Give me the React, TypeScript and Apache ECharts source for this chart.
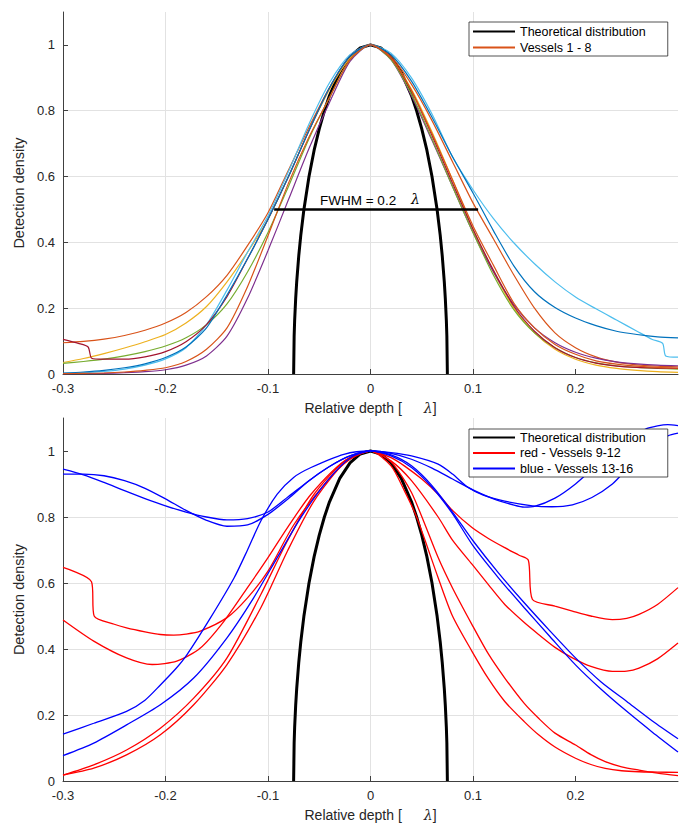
import React, { useEffect, useRef } from 'react';
import * as echarts from 'echarts';

const FONT = '"Liberation Sans", Arial, Helvetica, sans-serif';

const xTicks = [-0.3, -0.2, -0.1, 0, 0.1, 0.2];
const yTicks = [0, 0.2, 0.4, 0.6, 0.8, 1];

// Theoretical distribution
const theoX = [-0.075, -0.0745, -0.074, -0.073, -0.072, -0.07, -0.068, -0.065, -0.06, -0.055, -0.05, -0.045, -0.04, -0.03, -0.02, -0.01, 0,
  0.01, 0.02, 0.03, 0.04, 0.045, 0.05, 0.055, 0.06, 0.065, 0.068, 0.07, 0.072, 0.073, 0.074, 0.0745, 0.075];
const theoY = [0, 0.115, 0.163, 0.229, 0.28, 0.359, 0.422, 0.499, 0.6, 0.68, 0.745, 0.8, 0.846, 0.917, 0.964, 0.991, 1,
  0.991, 0.964, 0.917, 0.846, 0.8, 0.745, 0.68, 0.6, 0.499, 0.422, 0.359, 0.28, 0.229, 0.163, 0.115, 0];

// Top panel: vessels 1-8 on a common x grid
const topX = [-0.3, -0.28, -0.26, -0.24, -0.22, -0.2, -0.18, -0.16, -0.14, -0.12, -0.1, -0.08, -0.06, -0.04, -0.02, 0,
  0.02, 0.04, 0.06, 0.08, 0.1, 0.12, 0.14, 0.16, 0.18, 0.2, 0.22, 0.24, 0.26, 0.28, 0.3];
const vesselOrangeA = [0.095, 0.099, 0.106, 0.117, 0.133, 0.155, 0.187, 0.235, 0.3, 0.39, 0.49, 0.62, 0.75, 0.87, 0.96, 1,
  0.965, 0.88, 0.77, 0.645, 0.52, 0.41, 0.3, 0.2, 0.125, 0.08, 0.052, 0.036, 0.028, 0.024, 0.022];
const vesselYellow = [0.035, 0.047, 0.062, 0.079, 0.098, 0.12, 0.155, 0.205, 0.28, 0.37, 0.47, 0.6, 0.74, 0.865, 0.96, 1,
  0.96, 0.865, 0.735, 0.59, 0.44, 0.31, 0.2, 0.125, 0.075, 0.045, 0.027, 0.017, 0.011, 0.007, 0.005];
const vesselPurple = [0.0005, 0.001, 0.002, 0.004, 0.007, 0.013, 0.027, 0.055, 0.115, 0.23, 0.375, 0.53, 0.685, 0.825, 0.95, 1,
  0.955, 0.845, 0.71, 0.57, 0.43, 0.31, 0.21, 0.14, 0.095, 0.066, 0.048, 0.037, 0.031, 0.027, 0.025];
const vesselGreen = [0.032, 0.038, 0.045, 0.055, 0.068, 0.085, 0.11, 0.15, 0.213, 0.31, 0.43, 0.57, 0.715, 0.84, 0.955, 1,
  0.955, 0.85, 0.715, 0.57, 0.43, 0.3, 0.195, 0.125, 0.08, 0.05, 0.034, 0.025, 0.02, 0.017, 0.015];
const vesselBlue = [0.003, 0.006, 0.011, 0.019, 0.031, 0.05, 0.082, 0.14, 0.24, 0.35, 0.47, 0.6, 0.74, 0.87, 0.965, 1,
  0.97, 0.89, 0.78, 0.66, 0.55, 0.435, 0.328, 0.25, 0.202, 0.17, 0.147, 0.13, 0.12, 0.113, 0.11];
const vesselOrangeB = [0.001, 0.002, 0.003, 0.006, 0.011, 0.019, 0.038, 0.075, 0.14, 0.265, 0.42, 0.58, 0.72, 0.84, 0.955, 1,
  0.96, 0.86, 0.73, 0.59, 0.45, 0.33, 0.215, 0.14, 0.09, 0.06, 0.04, 0.03, 0.024, 0.02, 0.018];
// vessels with kinks: own x/y pairs
const vesselLightBlue: [number, number][] = [[-0.3, 0.002], [-0.28, 0.004], [-0.26, 0.008], [-0.24, 0.015], [-0.22, 0.027], [-0.2, 0.046],
  [-0.18, 0.08], [-0.16, 0.15], [-0.14, 0.255], [-0.12, 0.37], [-0.1, 0.48], [-0.08, 0.615], [-0.06, 0.76], [-0.04, 0.885], [-0.02, 0.97], [0, 1],
  [0.02, 0.975], [0.04, 0.9], [0.06, 0.79], [0.08, 0.66], [0.1, 0.56], [0.12, 0.472], [0.14, 0.398], [0.16, 0.335], [0.18, 0.28], [0.2, 0.234],
  [0.22, 0.198], [0.24, 0.164], [0.26, 0.13], [0.275, 0.105], [0.285, 0.093], [0.288, 0.055], [0.3, 0.051]];
const vesselDarkRed: [number, number][] = [[-0.3, 0.105], [-0.285, 0.093], [-0.2755, 0.082], [-0.272, 0.048], [-0.26, 0.045], [-0.24, 0.045],
  [-0.22, 0.052], [-0.2, 0.068], [-0.18, 0.098], [-0.16, 0.15], [-0.14, 0.235], [-0.12, 0.35], [-0.1, 0.47], [-0.08, 0.6], [-0.06, 0.74],
  [-0.04, 0.87], [-0.02, 0.965], [0, 1], [0.02, 0.96], [0.04, 0.86], [0.06, 0.725], [0.08, 0.58], [0.1, 0.44], [0.12, 0.315], [0.14, 0.205],
  [0.16, 0.13], [0.18, 0.08], [0.2, 0.05], [0.22, 0.033], [0.24, 0.024], [0.26, 0.02], [0.28, 0.018], [0.3, 0.017]];

const fwhmX = [-0.094, 0.105];
const fwhmY = [0.5, 0.5];

// Bottom panel: vessels 9-12 (red) and 13-16 (blue)
const red9: [number, number][] = [[-0.3, 0.647], [-0.2722, 0.604], [-0.2696, 0.5], [-0.25, 0.475], [-0.238, 0.464], [-0.22, 0.452], [-0.205, 0.444],
  [-0.192, 0.442], [-0.18, 0.445], [-0.166, 0.454], [-0.14, 0.495], [-0.12, 0.555], [-0.1, 0.636], [-0.0745, 0.778], [-0.042, 0.91], [-0.02, 0.975], [0, 1],
  [0.02, 0.98], [0.033, 0.955], [0.05, 0.915], [0.066, 0.869], [0.08, 0.82], [0.099, 0.768], [0.115, 0.735], [0.131, 0.707], [0.145, 0.684],
  [0.154, 0.669], [0.158, 0.55], [0.18, 0.53], [0.197, 0.515], [0.215, 0.5], [0.236, 0.489], [0.25, 0.493], [0.262, 0.505], [0.28, 0.535], [0.3, 0.586]];
const red10: [number, number][] = [[-0.3, 0.488], [-0.27, 0.424], [-0.238, 0.373], [-0.213, 0.353], [-0.189, 0.363], [-0.166, 0.403], [-0.143, 0.484],
  [-0.12, 0.586], [-0.1, 0.677], [-0.081, 0.768], [-0.058, 0.869], [-0.025, 0.971], [0, 1],
  [0.02, 0.97], [0.04, 0.91], [0.066, 0.8], [0.08, 0.73], [0.099, 0.657], [0.115, 0.595], [0.131, 0.535], [0.15, 0.48], [0.164, 0.444], [0.18, 0.405],
  [0.197, 0.373], [0.215, 0.347], [0.236, 0.332], [0.25, 0.333], [0.262, 0.342], [0.28, 0.37], [0.3, 0.418]];
const red11: [number, number][] = [[-0.3, 0.018], [-0.27, 0.049], [-0.238, 0.094], [-0.205, 0.16], [-0.1725, 0.251], [-0.14, 0.373], [-0.107, 0.565],
  [-0.081, 0.728], [-0.055, 0.869], [-0.025, 0.97], [0, 1],
  [0.02, 0.967], [0.04, 0.874], [0.066, 0.677], [0.08, 0.585], [0.099, 0.474], [0.115, 0.385], [0.131, 0.312], [0.15, 0.235], [0.164, 0.19], [0.18, 0.145],
  [0.2, 0.109], [0.215, 0.08], [0.229, 0.059], [0.245, 0.043], [0.262, 0.033], [0.28, 0.024], [0.3, 0.016]];
const red12: [number, number][] = [[-0.3, 0.018], [-0.27, 0.039], [-0.238, 0.079], [-0.205, 0.14], [-0.1725, 0.231], [-0.14, 0.353], [-0.107, 0.525],
  [-0.081, 0.697], [-0.055, 0.849], [-0.025, 0.965], [0, 1],
  [0.02, 0.955], [0.033, 0.88], [0.045, 0.8], [0.066, 0.616], [0.08, 0.5], [0.099, 0.393], [0.115, 0.31], [0.131, 0.241], [0.15, 0.18], [0.164, 0.14],
  [0.18, 0.103], [0.2, 0.069], [0.215, 0.05], [0.229, 0.038], [0.245, 0.031], [0.262, 0.028], [0.28, 0.027], [0.3, 0.026]];
const blue13: [number, number][] = [[-0.3, 0.945], [-0.28, 0.928], [-0.26, 0.905], [-0.24, 0.88], [-0.22, 0.856], [-0.2, 0.834], [-0.18, 0.815],
  [-0.16, 0.8], [-0.14, 0.791], [-0.12, 0.795], [-0.1, 0.815], [-0.08, 0.862], [-0.06, 0.91], [-0.04, 0.953], [-0.02, 0.985], [0, 1],
  [0.02, 0.995], [0.04, 0.985], [0.066, 0.96], [0.08, 0.93], [0.095, 0.89], [0.11, 0.866], [0.131, 0.848], [0.158, 0.834], [0.177, 0.831],
  [0.197, 0.837], [0.216, 0.859], [0.236, 0.9], [0.25, 0.945], [0.265, 0.995], [0.28, 1.03], [0.29, 1.046], [0.3, 1.054]];
const blue14: [number, number][] = [[-0.3, 0.93], [-0.28, 0.93], [-0.26, 0.925], [-0.24, 0.91], [-0.22, 0.887], [-0.2, 0.855], [-0.18, 0.82],
  [-0.16, 0.79], [-0.14, 0.772], [-0.12, 0.776], [-0.1, 0.808], [-0.08, 0.856], [-0.06, 0.91], [-0.04, 0.953], [-0.02, 0.985], [0, 1],
  [0.02, 0.993], [0.04, 0.975], [0.06, 0.948], [0.08, 0.915], [0.1, 0.882], [0.12, 0.855], [0.14, 0.836], [0.15, 0.83], [0.16, 0.832],
  [0.18, 0.857], [0.2, 0.9], [0.22, 0.955], [0.24, 1.005], [0.255, 1.04], [0.268, 1.066], [0.28, 1.076], [0.29, 1.08], [0.3, 1.077]];
const blue15: [number, number][] = [[-0.3, 0.142], [-0.27, 0.175], [-0.238, 0.211], [-0.22, 0.245], [-0.205, 0.291], [-0.19, 0.34], [-0.179, 0.383],
  [-0.156, 0.495], [-0.133, 0.616], [-0.12, 0.7], [-0.107, 0.788], [-0.091, 0.869], [-0.075, 0.92], [-0.058, 0.95], [-0.026, 0.99], [0, 1],
  [0.02, 0.988], [0.04, 0.955], [0.06, 0.895], [0.08, 0.815], [0.1, 0.728], [0.125, 0.63], [0.15, 0.54], [0.175, 0.455], [0.2, 0.373],
  [0.225, 0.3], [0.25, 0.241], [0.275, 0.182], [0.3, 0.128]];
const blue16: [number, number][] = [[-0.3, 0.077], [-0.27, 0.115], [-0.238, 0.17], [-0.205, 0.231], [-0.1725, 0.312], [-0.14, 0.434], [-0.114, 0.555],
  [-0.091, 0.677], [-0.068, 0.798], [-0.042, 0.91], [-0.019, 0.981], [0, 1],
  [0.02, 0.985], [0.04, 0.95], [0.06, 0.89], [0.08, 0.81], [0.1, 0.713], [0.125, 0.615], [0.15, 0.525], [0.175, 0.438], [0.2, 0.352],
  [0.225, 0.278], [0.25, 0.211], [0.275, 0.148], [0.3, 0.088]];

const zip = (xs: number[], ys: number[]) => xs.map((x, i) => [x, ys[i]]);

export default function App() {
  const ref = useRef<HTMLDivElement>(null);
  useEffect(() => {
    if (!ref.current) return;
    const chart = echarts.init(ref.current, undefined, { renderer: 'svg' });
    const axisColor = '#404040';
    const mkX = (gi: number) => ({
      type: 'value', gridIndex: gi, min: -0.3, max: 0.3, interval: 0.1,
      name: 'Relative depth [{g|}{l|λ}]', nameLocation: 'middle', nameGap: 27,
      nameTextStyle: {
        fontFamily: FONT, fontSize: 14, color: '#262626',
        rich: { g: { width: 22 }, l: { fontFamily: '"DejaVu Serif", serif', fontStyle: 'italic', fontSize: 14, color: '#262626' } },
      },
      axisLine: { show: true, onZero: false, lineStyle: { color: axisColor, width: 1 } },
      axisTick: { show: true, inside: true, length: 5, customValues: xTicks, lineStyle: { color: axisColor } },
      axisLabel: { customValues: xTicks, margin: 8, fontFamily: FONT, fontSize: 13, color: '#262626' },
      splitLine: { show: true, showMinLine: false, showMaxLine: false, lineStyle: { color: '#e2e2e2', width: 1 } },
    });
    const mkY = (gi: number) => ({
      type: 'value', gridIndex: gi, min: 0, max: 1.1, interval: 0.2,
      name: 'Detection density', nameLocation: 'middle', nameGap: 30,
      nameTextStyle: { fontFamily: FONT, fontSize: 14.5, color: '#262626' },
      axisLine: { show: true, onZero: false, lineStyle: { color: axisColor, width: 1 } },
      axisTick: { show: true, inside: true, length: 5, customValues: yTicks, lineStyle: { color: axisColor } },
      axisLabel: { customValues: yTicks, margin: 8, fontFamily: FONT, fontSize: 13, color: '#262626' },
      splitLine: { show: true, showMinLine: false, showMaxLine: false, lineStyle: { color: '#e2e2e2', width: 1 } },
    });
    const line = (name: string, data: any, color: string, width: number, gi: number, z = 2) => ({
      type: 'line', name, data, xAxisIndex: gi, yAxisIndex: gi, showSymbol: false, symbol: 'none',
      smooth: 0.25, lineStyle: { color, width }, itemStyle: { color }, z,
    });
    const legendBase = {
      orient: 'vertical', left: 469, itemWidth: 42, itemHeight: 14,
      borderColor: '#262626', borderWidth: 0.8, backgroundColor: '#ffffff', borderRadius: 0,
      itemStyle: { opacity: 0 },
      textStyle: { fontFamily: FONT, fontSize: 12.5, color: '#000' }, selectedMode: false, z: 10,
    };
    chart.setOption({
      animation: false,
      backgroundColor: '#ffffff',
      grid: [
        { left: 63, right: 8, top: 12, height: 362 },
        { left: 63, right: 8, top: 418, height: 363 },
      ],
      xAxis: [mkX(0), mkX(1)],
      yAxis: [mkY(0), mkY(1)],
      legend: [
        { ...legendBase, top: 22, itemGap: 3, padding: [3, 22, 2, 3], data: ['Theoretical distribution', 'Vessels 1 - 8'] },
        { ...legendBase, top: 429, itemGap: 2.5, padding: [2, 22, 2, 3], data: ['Theoretical distribution', 'red - Vessels 9-12', 'blue - Vessels 13-16'] },
      ],
      series: [
        { ...line('Theoretical distribution', zip(theoX, theoY), '#000000', 3, 0), smooth: false },
        line('Vessels 1 - 8', zip(topX, vesselOrangeA), '#D95319', 1.2, 0),
        line('v2', zip(topX, vesselYellow), '#EDB120', 1.2, 0),
        line('v3', zip(topX, vesselPurple), '#7E2F8E', 1.2, 0),
        line('v4', zip(topX, vesselGreen), '#77AC30', 1.2, 0),
        line('v5', vesselLightBlue, '#4DBEEE', 1.2, 0),
        line('v6', vesselDarkRed, '#A2142F', 1.2, 0),
        line('v7', zip(topX, vesselBlue), '#0072BD', 1.2, 0),
        line('v8', zip(topX, vesselOrangeB), '#D95319', 1.2, 0),
        { ...line('fwhm', zip(fwhmX, fwhmY), '#000000', 2.5, 0, 3), smooth: false },
        { ...line('Theoretical distribution', zip(theoX, theoY), '#000000', 3, 1), smooth: false },
        line('red - Vessels 9-12', red9, '#FF0000', 1.3, 1),
        line('r10', red10, '#FF0000', 1.3, 1),
        line('r11', red11, '#FF0000', 1.3, 1),
        line('r12', red12, '#FF0000', 1.3, 1),
        line('blue - Vessels 13-16', blue13, '#0000FF', 1.3, 1),
        line('b14', blue14, '#0000FF', 1.3, 1),
        line('b15', blue15, '#0000FF', 1.3, 1),
        line('b16', blue16, '#0000FF', 1.3, 1),
      ],
      graphic: [
        { type: 'text', left: 320, top: 193, z: 20, style: { text: 'FWHM = 0.2', font: `13.5px ${FONT}`, fill: '#000' } },
        { type: 'text', left: 411, top: 192, z: 20, style: { text: 'λ', font: `italic 14px "DejaVu Serif", serif`, fill: '#000' } },
      ],
    });
    return () => chart.dispose();
  }, []);
  return <div ref={ref} style={{ position: 'absolute', left: 0, top: 0, width: 686, height: 827 }} />;
}
